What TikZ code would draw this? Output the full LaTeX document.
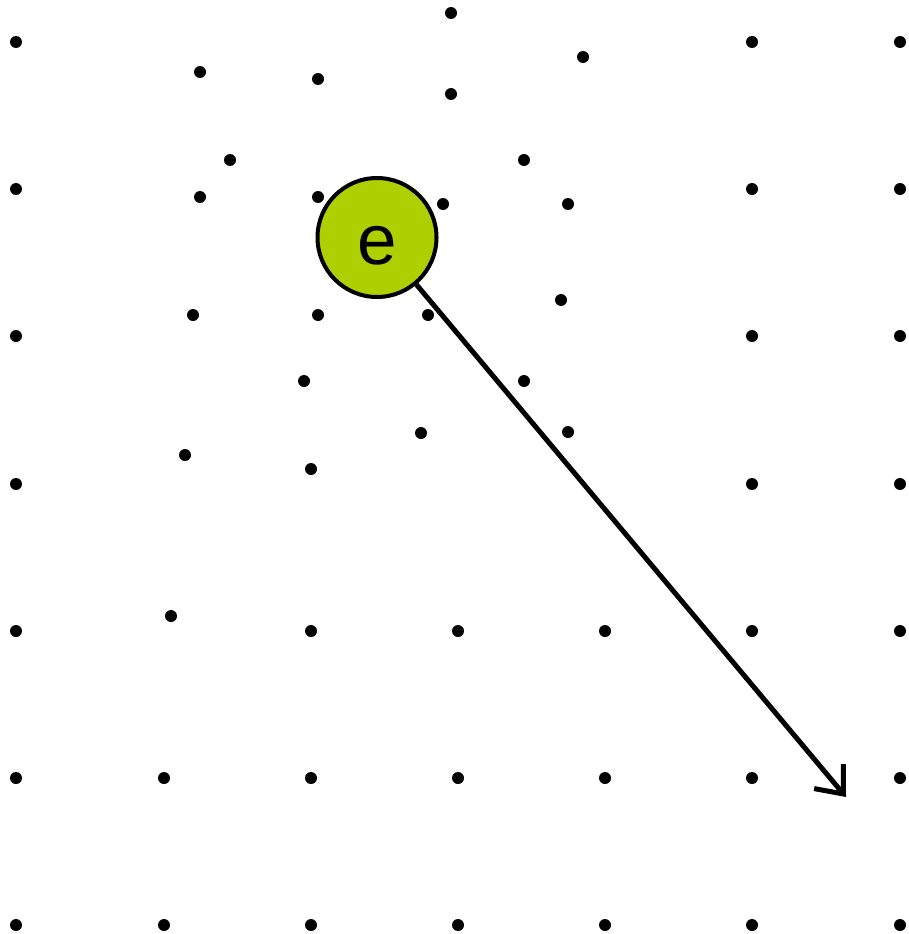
\documentclass[tikz,border=0pt]{standalone}
\usepackage{fontspec}
\setmainfont{Liberation Sans}
\usetikzlibrary{arrows.meta}
\definecolor{elec}{HTML}{AFD000}
\begin{document}
\begin{tikzpicture}[x=1pt,y=-1pt,
  ion/.style={circle,fill=black,inner sep=0pt,minimum size=12pt},
  electron/.style={circle,draw=black,line width=4pt,fill=elec,minimum size=119pt,inner sep=0pt,font=\fontsize{71}{74}\selectfont},
  motion/.style={line width=5pt,-{Straight Barb[length=23pt,width=38pt,line width=5pt]}}]
\useasboundingbox (0,0) rectangle (908,934);
\foreach \x/\y [count=\i] in {16/42,752/42,900/42,
  451/13,200/72,318/79,451/94,583/57,
  16/189,752/189,900/189,
  230/160,200/197,318/197,443/204,524/160,568/204,
  16/336,752/336,900/336,
  193/315,318/315,428/315,561/300,304/381,524/381,421/433,568/432,
  16/484,752/484,900/484,185/455,311/469,
  16/631,171/616,311/631,458/631,605/631,752/631,900/631,
  16/778,164/778,311/778,458/778,605/778,752/778,900/778,
  16/925,164/925,311/925,458/925,605/925,752/925,900/925}
  \node[ion] (ion\i) at (\x,\y) {};
\node[electron] (e) at (377,237.5) {\raisebox{-8pt}[\height][\depth]{e}};
\coordinate (end) at (846,797);
\draw[motion] (e) -- (end);
\end{tikzpicture}
\end{document}
